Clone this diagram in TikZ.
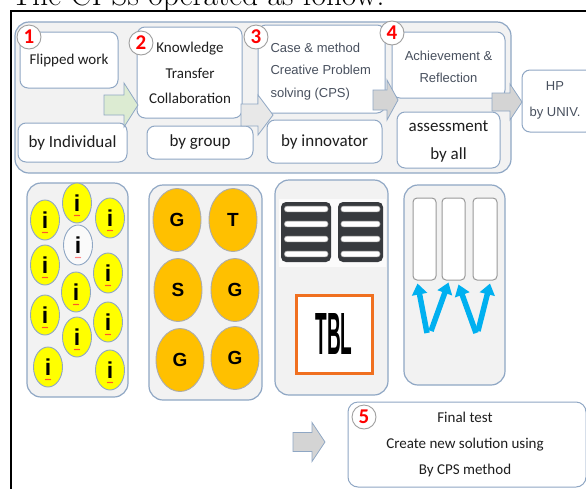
\documentclass[tikz,border=0pt]{standalone}
\usepackage{fontspec}
\newfontfamily\calib{Carlito}
\newfontfamily\arial{Liberation Sans}
\usetikzlibrary{shapes.geometric,calc,arrows.meta}
\definecolor{edge}{RGB}{143,167,196}
\definecolor{panel}{RGB}{242,242,242}
\definecolor{slate}{RGB}{72,80,94}
\definecolor{ink}{RGB}{30,30,30}
\definecolor{gold}{RGB}{255,192,0}
\definecolor{lemon}{RGB}{255,255,0}
\definecolor{tblorange}{RGB}{240,112,32}
\definecolor{skyblue}{RGB}{0,176,240}
\definecolor{leaf}{RGB}{220,235,210}
\definecolor{arrowgrey}{RGB}{212,212,212}
\definecolor{arrowlight}{RGB}{232,232,232}
\definecolor{bardark}{RGB}{55,58,62}
% block arrow: #1 style, #2 tail x, #3 tip x, #4 centre y, #5 half shaft, #6 half head, #7 head length
\newcommand{\stagearrow}[7]{%
  \draw[#1] (#2,#4-#5) -- (#3-#7,#4-#5) -- (#3-#7,#4-#6) -- (#3,#4) -- (#3-#7,#4+#6)
    -- (#3-#7,#4+#5) -- (#2,#4+#5) -- cycle;}
\begin{document}
\begin{tikzpicture}[x=1pt,y=-1pt,
  container/.style={draw=edge,fill=panel,line width=1.2pt,rounded corners=14pt},
  wbox/.style={draw=edge,fill=white,line width=1pt,rounded corners=8pt,inner sep=0pt},
  numc/.style={circle,fill=white,draw=gray!75,line width=0.9pt,minimum size=24pt,inner sep=0pt,
    text=red,font=\calib\bfseries\fontsize{21}{21}\selectfont},
  cal/.style={text=ink,font=\calib\fontsize{17}{20}\selectfont},
  calsm/.style={text=ink,font=\calib\fontsize{15}{25.5}\selectfont},
  ari/.style={text=slate,font=\arial\fontsize{13}{22.5}\selectfont},
  blk/.style={draw=edge,line width=0.8pt,line join=miter},
  yel/.style={ellipse,draw=edge,line width=0.9pt,fill=lemon,minimum width=29pt,minimum height=40pt,inner sep=0pt,
    font=\arial\bfseries\fontsize{23}{23}\selectfont},
  org/.style={ellipse,draw=gray!65,line width=0.9pt,fill=gold,minimum width=48pt,minimum height=63pt,inner sep=0pt,
    font=\arial\bfseries\fontsize{19}{19}\selectfont},
  column/.style={draw=gray!80,fill=white,line width=1pt,rounded corners=4pt,minimum width=23pt,minimum height=82pt,inner sep=0pt},
  bluarrow/.style={draw=skyblue,line width=5.5pt,-{Triangle[length=11pt,width=15pt]}},
  pill/.style={draw=gray!60,fill=white,line width=0.6pt,rounded corners=2.5pt}
]
\clip (0,0) rectangle (586,488);
\fill[white] (0,0) rectangle (586,488);

% heading line and page frame
\node[anchor=base west,inner sep=0pt,font=\fontsize{31.5}{33}\selectfont] (title) at (11,5) {The CPSs operated as follow:};
\draw[line width=1.3pt] (11,495) -- (11,11) -- (595,11);

% stage strip
\node[container,minimum width=496pt,minimum height=151pt,inner sep=0pt] (strip) at (263,97.5) {};

\node[wbox,cal,font=\calib\fontsize{15}{18}\selectfont,minimum width=98pt,minimum height=56pt] (s1) at (69,60) {Flipped work};
\node[wbox,cal,minimum width=109pt,minimum height=39pt] (u1) at (72.5,142.5) {by Individual};

\node[wbox,minimum width=105pt,minimum height=91pt] (s2) at (189.5,72.5) {};
\node[calsm,align=center] (t2) at (190,73) {Knowledge\\Transfer\\Collaboration};
\node[wbox,cal,minimum width=106pt,minimum height=33pt] (u2) at (200,142.5) {by group};

\node[wbox,minimum width=127pt,minimum height=88pt] (s3) at (321.5,69) {};
\node[ari,align=left,anchor=west] (t3) at (267,71.5) {Case \& method\\Creative Problem\\solving (CPS)};
\node[wbox,cal,minimum width=115pt,minimum height=43pt] (u3) at (324.5,141.5) {by innovator};

\node[wbox,minimum width=113pt,minimum height=66pt] (s4) at (448.5,65) {};
\node[ari,align=center] (t4) at (448.5,67) {Achievement \&\\Reflection};
\node[wbox,minimum width=103pt,minimum height=56pt] (u4) at (448.5,140) {};
\node[cal,align=center,font=\calib\fontsize{17}{28}\selectfont] (t4b) at (448.5,141.5) {assessment\\by all};

\node[wbox,minimum width=72pt,minimum height=62pt] (hp) at (558,101) {};
\node[ari,align=center,font=\arial\fontsize{13}{26}\selectfont] (thp) at (555,100.5) {HP\\by UNIV.};

% block arrows between the stages
\stagearrow{blk,fill=leaf}{104}{138}{105}{10}{22}{14}
\stagearrow{blk,fill=arrowlight}{241}{273}{115}{11}{20}{15}
\stagearrow{blk,fill=arrowgrey}{373}{398}{100}{10}{20}{11}
\stagearrow{blk,fill=arrowgrey}{492}{522}{102}{9}{18}{12}

% stage numbers
\node[numc] (n1) at (29,37) {1};
\node[numc] (n2) at (141,43) {2};
\node[numc] (n3) at (256,37) {3};
\node[numc] (n4) at (392,33) {4};

% panel 1: individuals
\node[container,minimum width=101pt,minimum height=214pt,inner sep=0pt] (p1) at (77.5,290) {};
\foreach \px/\py [count=\k] in {77/203,45/220,110/218,45/265,108/273,76/292,45/315,108/322,77/337,48/367,110/370}{
  \node[yel] (y\k) at (\px,\py) {i};
  \draw[red!80,line width=0.5pt] ($(y\k.center)+(-3,12)$) -- ++(1,1) -- ++(1,-1) -- ++(1,1) -- ++(1,-1) -- ++(1,1) -- ++(1,-1);
}
\node[yel,fill=white!96!gray] (y0) at (78,245) {i};
\draw[red!60,line width=0.5pt] ($(y0.center)+(-3,12)$) -- ++(1,1) -- ++(1,-1) -- ++(1,1) -- ++(1,-1) -- ++(1,1) -- ++(1,-1);

% panel 2: groups
\node[container,minimum width=113pt,minimum height=215pt,inner sep=0pt] (p2) at (205.5,292.5) {};
\node[org] (g1) at (177,220) {G};
\node[org] (g2) at (233,220) {T};
\node[org] (g3) at (178,290) {S};
\node[org] (g4) at (235,290) {G};
\node[org] (g5) at (180,360) {G};
\node[org] (g6) at (235,358) {G};

% panel 3: tables and TBL
\node[container,minimum width=113pt,minimum height=215pt,inner sep=0pt] (p3) at (331.5,287.5) {};
\fill[white!97!gray] (279,199) rectangle (386,267);
\fill[bardark,rounded corners=5pt] (281,202) rectangle (331,262);
\fill[bardark,rounded corners=5pt] (338,202) rectangle (383,262);
\foreach \by in {209,224,239,254}{
  \draw[pill] (284.5,\by-2.8) rectangle (328,\by+2.8);
  \draw[pill] (341,\by-2.8) rectangle (380,\by+2.8);
}
\node[draw=tblorange,line width=3pt,fill=white,minimum width=76pt,minimum height=78pt,inner sep=0pt] (tbl) at (334,334)
  {\resizebox{37pt}{41pt}{\arial\bfseries TBL}};

% panel 4: columns with crossing arrows
\node[container,minimum width=101pt,minimum height=200pt,inner sep=0pt] (p4) at (454.5,285) {};
\node[column] (col1) at (424.5,239) {};
\node[column] (col2) at (453.5,239) {};
\node[column,minimum width=24pt] (col3) at (485,239) {};
\coordinate (v1) at (427,333);
\coordinate (v1r) at (431,331);
\coordinate (v2) at (476,333);
\coordinate (v2r) at (478,331);
\draw[bluarrow] (v1) -- ($(col1.south)+(-7,3)$);
\draw[bluarrow] (v1r) -- ($(col2.south)+(-5,2)$);
\draw[bluarrow] (v2) -- ($(col2.south)+(5,4)$);
\draw[bluarrow] (v2r) -- ($(col3.south)+(5,3)$);

% final stage
\stagearrow{blk,fill=arrowgrey}{293}{325}{442}{9.5}{19.5}{13}
\node[wbox,rounded corners=10pt,minimum width=238pt,minimum height=85pt] (fin) at (467,444.5) {};
\node[calsm,align=center,font=\calib\fontsize{15}{26}\selectfont] (tfin) at (465,444) {Final test\\Create new solution using\\By CPS method};
\node[numc] (n5) at (364,417) {5};
\end{tikzpicture}
\end{document}
